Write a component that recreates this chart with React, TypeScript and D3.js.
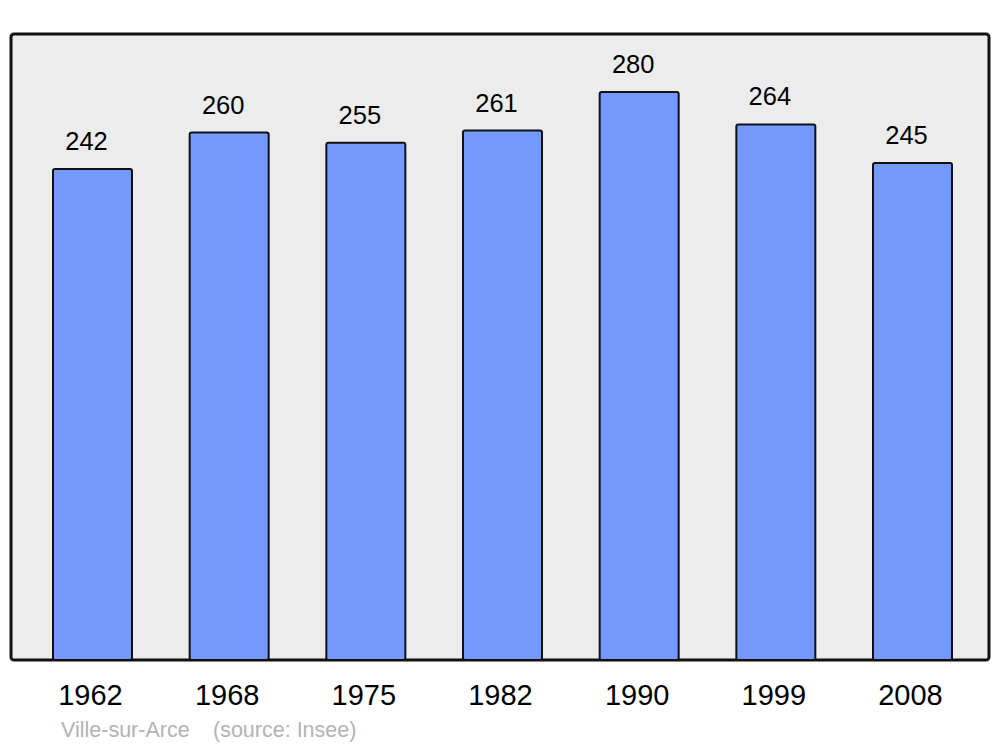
import React from 'react'
import {scaleBand, scaleLinear} from 'd3'

const years = ['1962', '1968', '1975', '1982', '1990', '1999', '2008']
const population = [242, 260, 255, 261, 280, 264, 245]
const townName = 'Ville-sur-Arce'
const sourceText = '(source: Insee)'

const App = () => {
    const width = 1000
    const height = 747
    const panel = {x: 11, y: 34, w: 978, h: 626}

    const xScale = scaleBand<string>()
        .domain(years)
        .range([53, 952])
        .paddingInner(0.422)
        .paddingOuter(0)

    const yScale = scaleLinear()
        .domain([0, 280])
        .range([660, 92])

    const font = '"Liberation Sans", Arial, sans-serif'

    return (
        <svg width={width} height={height} style={{position: 'absolute', left: 0, top: 0}} fontFamily={font}>
            <rect x={0} y={0} width={width} height={height} fill="#fff" />
            <rect x={panel.x} y={panel.y} width={panel.w} height={panel.h} rx={3} fill="#ececec" stroke="#111" strokeWidth={3} />
            {population.map((v, i) => {
                const x = xScale(years[i])!
                const bw = xScale.bandwidth()
                return (
                    <g key={years[i]}>
                        <rect x={x} y={yScale(v)} width={bw} height={yScale(0) - yScale(v)} rx={2}
                            fill="#7399ff" stroke="#111" strokeWidth={2} />
                        <text x={x + bw / 2 - 6} y={yScale(v) - 19} textAnchor="middle" fontSize={25.5} fill="#000">{v}</text>
                        <text x={x + bw / 2 - 2} y={705} textAnchor="middle" fontSize={29} fill="#000">{years[i]}</text>
                    </g>
                )
            })}
            <text x={61} y={737} fontSize={21.5} fill="#b3b3b3">{townName}</text>
            <text x={213} y={737} fontSize={21.5} fill="#b3b3b3">{sourceText}</text>
        </svg>
    )
}

export default App
